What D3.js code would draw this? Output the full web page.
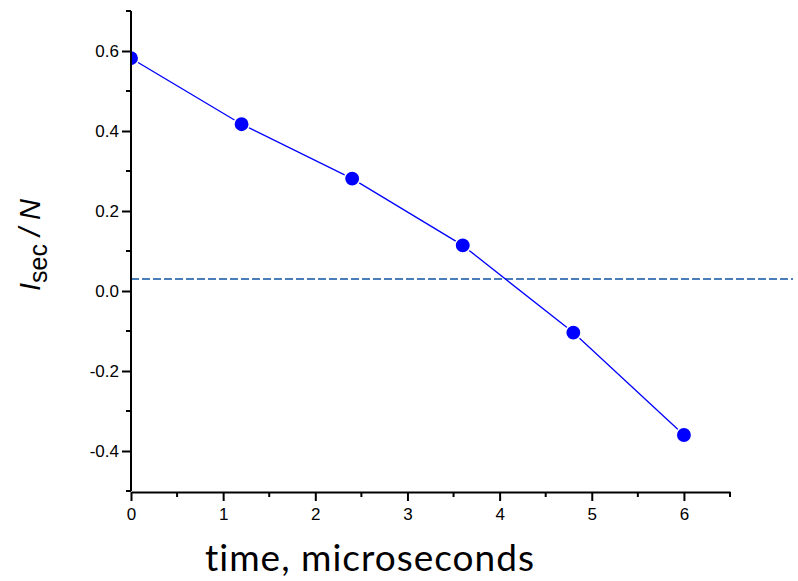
<!DOCTYPE html>
<html>
<head>
<meta charset="utf-8">
<script src="https://cdn.jsdelivr.net/npm/d3@7"></script>
<style>
  body { margin: 0; background: #fff; }
  svg { display: block; }
  .tick text { font-family: "Liberation Sans", Arial, sans-serif; font-size: 17px; fill: #000; }
</style>
</head>
<body>
<svg width="798" height="581"></svg>
<script>
let width = 798,
    height = 581;

// data
let times = [0, 1.2, 2.4, 3.6, 4.8, 6];
let isec = [0.582, 0.417, 0.281, 0.114, -0.104, -0.36];
let threshold = 0.03;
let xTicks = [0, 1, 2, 3, 4, 5, 6];
let yTicks = [-0.4, -0.2, 0.0, 0.2, 0.4, 0.6];

let points = times.map((t, i) => ({t: t, v: isec[i]}));

let x = d3.scaleLinear().domain([0, 6.5]).range([131, 730]);
let y = d3.scaleLinear().domain([-0.5, 0.7]).range([491, 11]);

let svg = d3.select("svg");

svg.append("defs").append("clipPath")
    .attr("id", "plot")
  .append("rect")
    .attr("x", 131).attr("y", 0)
    .attr("width", width - 131).attr("height", 491);

// dashed reference line
svg.append("line")
    .attr("x1", x(0)).attr("x2", 793)
    .attr("y1", y(threshold)).attr("y2", y(threshold))
    .attr("stroke", "#4a7ebb")
    .attr("stroke-width", 2)
    .attr("stroke-dasharray", "8,3");

let plot = svg.append("g").attr("clip-path", "url(#plot)");

plot.append("path")
    .datum(points)
    .attr("fill", "none")
    .attr("stroke", "#0000ff")
    .attr("stroke-width", 1.3)
    .attr("d", d3.line().x(d => x(d.t)).y(d => y(d.v)));

plot.selectAll("circle")
  .data(points)
  .enter().append("circle")
    .attr("cx", d => x(d.t))
    .attr("cy", d => y(d.v))
    .attr("r", 7.7)
    .attr("fill", "#0000ff")
    .attr("stroke", "#fff")
    .attr("stroke-width", 1.5);

// axes with minor ticks
let xMinor = d3.range(0, 6.51, 0.5).filter(v => v % 1 !== 0);
let yMinor = [-0.5, -0.3, -0.1, 0.1, 0.3, 0.5, 0.7];

let xAxis = svg.append("g")
    .attr("transform", "translate(0," + 492 + ")");
xAxis.call(d3.axisBottom(x).tickValues(xTicks).tickFormat(d3.format("d")).tickSize(9).tickSizeOuter(0))
    .call(g => g.select(".domain").attr("stroke-width", 2));
xAxis.selectAll(".tick line").attr("stroke-width", 2);
xAxis.selectAll(".tick text").attr("y", 16);
xAxis.selectAll(".minor")
  .data(xMinor)
  .enter().append("line")
    .attr("class", "minor")
    .attr("x1", d => x(d)).attr("x2", d => x(d))
    .attr("y1", 0).attr("y2", 5)
    .attr("stroke", "#000").attr("stroke-width", 2);

let yAxis = svg.append("g")
    .attr("transform", "translate(" + 131 + ",0)");
yAxis.call(d3.axisLeft(y).tickValues(yTicks)
        .tickFormat(d => d3.format(".1f")(d).replace("\u2212", "-"))
        .tickSize(9).tickSizeOuter(0))
    .call(g => g.select(".domain").attr("stroke-width", 2).attr("d", "M0," + y(-0.5) + "V" + y(0.7)));
yAxis.selectAll(".tick line").attr("stroke-width", 2);
yAxis.selectAll(".tick text").attr("x", -12);
yAxis.selectAll(".minor")
  .data(yMinor)
  .enter().append("line")
    .attr("class", "minor")
    .attr("x1", -5).attr("x2", 0)
    .attr("y1", d => y(d)).attr("y2", d => y(d))
    .attr("stroke", "#000").attr("stroke-width", 2);

// titles
svg.append("text")
    .attr("x", 370).attr("y", 571)
    .attr("text-anchor", "middle")
    .style("font-family", "Lato, 'Open Sans', sans-serif")
    .style("font-size", "37px")
    .style("letter-spacing", "1px")
    .text("time, microseconds");

let yt = svg.append("text")
    .attr("transform", "translate(40,245) rotate(-90)")
    .attr("text-anchor", "middle")
    .style("font-family", "'Liberation Sans', Arial, sans-serif")
    .style("font-size", "29px");
yt.append("tspan").style("font-style", "italic").text("I");
yt.append("tspan").attr("dy", 7).style("font-size", "25px").text("sec");
yt.append("tspan").attr("dy", -7).style("font-style", "italic").text(" / N");
</script>
</body>
</html>
